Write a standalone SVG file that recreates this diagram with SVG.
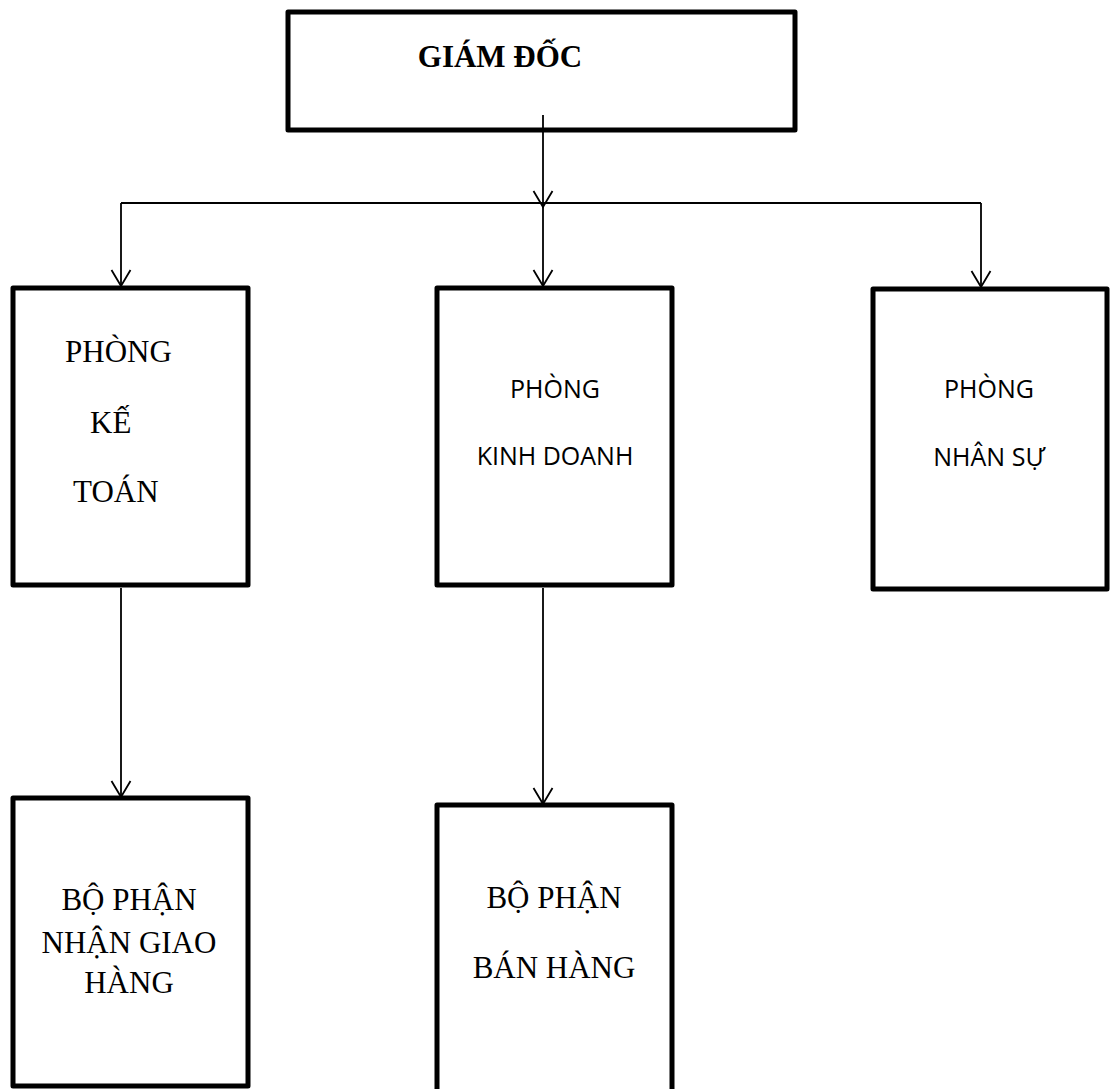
<svg xmlns="http://www.w3.org/2000/svg" width="1112" height="1089" viewBox="0 0 1112 1089">
<defs>
<marker id="arr" markerUnits="userSpaceOnUse" markerWidth="20" markerHeight="20" refX="0" refY="0" orient="auto" overflow="visible">
<path d="M-16,-9.5 L0,0 L-16,9.5" fill="none" stroke="#000" stroke-width="1.8"/>
</marker>
</defs>
<style>
.box{fill:#fff;stroke:#000;stroke-width:5;stroke-linejoin:round}
.c{fill:none;stroke:#000;stroke-width:1.8}
.serif{font-family:"Liberation Serif","Times New Roman",serif;font-size:31px;fill:#000}
.sans{font-family:"Open Sans","Noto Sans",sans-serif;font-size:25px;fill:#000}
</style>
<rect width="1112" height="1089" fill="#fff"/>
<g id="giam-doc">
<rect class="box" x="288" y="12" width="507" height="118"/>
<text class="serif" x="500" y="67" text-anchor="middle" font-weight="bold">GIÁM ĐỐC</text>
</g>
<g id="phong-ke-toan">
<rect class="box" x="13" y="288" width="235" height="297"/>
<text class="serif" x="65" y="362">PHÒNG</text>
<text class="serif" x="90" y="433">KẾ</text>
<text class="serif" x="73" y="502">TOÁN</text>
</g>
<g id="phong-kinh-doanh">
<rect class="box" x="437" y="288" width="235" height="297"/>
<text class="sans" x="555" y="398" text-anchor="middle">PHÒNG</text>
<text class="sans" x="555" y="465" text-anchor="middle">KINH DOANH</text>
</g>
<g id="phong-nhan-su">
<rect class="box" x="873" y="289" width="234" height="300"/>
<text class="sans" x="989" y="398" text-anchor="middle">PHÒNG</text>
<text class="sans" x="989" y="466" text-anchor="middle">NHÂN SỰ</text>
</g>
<g id="bo-phan-nhan-giao-hang">
<rect class="box" x="13" y="798" width="235" height="288"/>
<text class="serif" x="129" y="910" text-anchor="middle">BỘ PHẬN</text>
<text class="serif" x="129" y="953" text-anchor="middle">NHẬN GIAO</text>
<text class="serif" x="129" y="993" text-anchor="middle">HÀNG</text>
</g>
<g id="bo-phan-ban-hang">
<rect class="box" x="437" y="805" width="235" height="300"/>
<text class="serif" x="554" y="908" text-anchor="middle">BỘ PHẬN</text>
<text class="serif" x="554" y="978" text-anchor="middle">BÁN HÀNG</text>
</g>
<g id="connectors">
<line class="c" x1="121" y1="203" x2="981" y2="203"/>
<line class="c" x1="543" y1="115" x2="543" y2="207" marker-end="url(#arr)"/>
<line class="c" x1="121" y1="203" x2="121" y2="286" marker-end="url(#arr)"/>
<line class="c" x1="543" y1="203" x2="543" y2="286" marker-end="url(#arr)"/>
<line class="c" x1="981" y1="203" x2="981" y2="287" marker-end="url(#arr)"/>
<line class="c" x1="121" y1="588" x2="121" y2="797" marker-end="url(#arr)"/>
<line class="c" x1="543" y1="588" x2="543" y2="804" marker-end="url(#arr)"/>
</g>
</svg>
